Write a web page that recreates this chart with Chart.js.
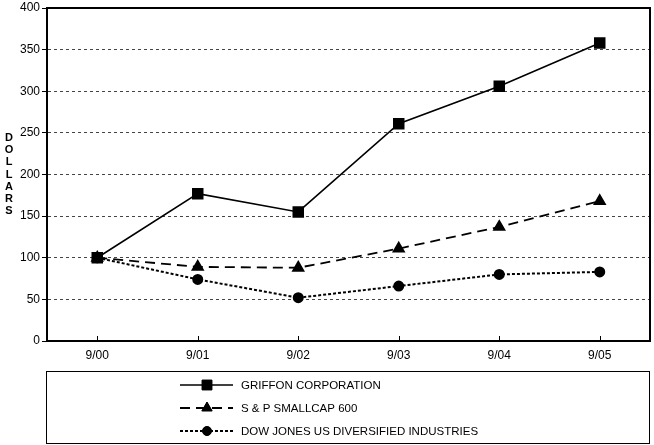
<!DOCTYPE html>
<html>
<head>
<meta charset="utf-8">
<script src="https://cdn.jsdelivr.net/npm/chart.js@4/dist/chart.umd.min.js"></script>
<style>
  html, body { margin: 0; padding: 0; background: #fff; }
  #wrap { width: 654px; height: 445px; }
</style>
</head>
<body>
<div id="wrap"><canvas id="chart" width="654" height="445"></canvas></div>
<script>
const years = ["9/00", "9/01", "9/02", "9/03", "9/04", "9/05"];
const griffon = [100, 177, 155, 261, 306, 358];
const smallcap = [100, 89, 88, 111, 137, 168];
const dowJones = [100, 74, 52, 66, 80, 83];
const yTicks = [0, 50, 100, 150, 200, 250, 300, 350, 400];
const axisTitle = "DOLLARS";

const FONT = "'Liberation Sans', Arial, sans-serif";

// frame, inner x ticks, vertical axis title, legend box
const extras = {
    id: "extras",
    afterDraw(chart) {
        const ctx = chart.ctx;
        const a = chart.chartArea;
        const x = chart.scales.x;
        ctx.save();
        ctx.strokeStyle = "#000";
        ctx.lineWidth = 2;
        ctx.setLineDash([]);
        ctx.strokeRect(a.left, a.top, a.right - a.left, a.bottom - a.top);

        ctx.lineWidth = 1;
        years.forEach((_, i) => {
            const px = Math.round(x.getPixelForValue(i)) + 0.5;
            ctx.beginPath();
            ctx.moveTo(px, a.bottom);
            ctx.lineTo(px, a.bottom - 5);
            ctx.stroke();
        });

        ctx.fillStyle = "#000";
        ctx.font = "bold 11px " + FONT;
        ctx.textAlign = "center";
        ctx.textBaseline = "middle";
        const mid = (a.top + a.bottom) / 2;
        const step = 12.3;
        const start = mid - step * (axisTitle.length - 1) / 2;
        axisTitle.split("").forEach((c, i) => ctx.fillText(c, 9, start + i * step));

        // legend
        const boxTop = 371, boxBottom = 443;
        ctx.lineWidth = 1;
        ctx.strokeRect(a.left - 0.5, boxTop + 0.5, a.right - a.left, boxBottom - boxTop);
        ctx.font = "11.5px " + FONT;
        ctx.textAlign = "left";
        chart.data.datasets.forEach((ds, i) => {
            const y = 385 + i * 23;
            ctx.save();
            ctx.strokeStyle = ds.borderColor;
            ctx.lineWidth = ds.borderWidth;
            ctx.setLineDash(ds.borderDash || []);
            ctx.beginPath();
            ctx.moveTo(180, y);
            ctx.lineTo(233, y);
            ctx.stroke();
            ctx.restore();
            Chart.helpers.drawPoint(ctx, {
                pointStyle: ds.pointStyle,
                radius: ds.pointRadius,
                borderWidth: 1,
                rotation: 0
            }, 207, y);
            ctx.fill();
            ctx.fillText(ds.label, 241, y + 1);
        });
        ctx.restore();
    }
};

new Chart(document.getElementById("chart"), {
    type: "line",
    data: {
        labels: years,
        datasets: [{
            label: "GRIFFON CORPORATION",
            data: griffon,
            borderColor: "#000",
            backgroundColor: "#000",
            borderWidth: 1.6,
            borderDash: [],
            pointStyle: "rect",
            pointRadius: 7,
            pointBackgroundColor: "#000",
            pointBorderColor: "#000",
            tension: 0
        }, {
            label: "S & P SMALLCAP 600",
            data: smallcap,
            borderColor: "#000",
            backgroundColor: "#000",
            borderWidth: 1.8,
            borderDash: [10, 6],
            pointStyle: "triangle",
            pointRadius: 6,
            pointBackgroundColor: "#000",
            pointBorderColor: "#000",
            tension: 0
        }, {
            label: "DOW JONES US DIVERSIFIED INDUSTRIES",
            data: dowJones,
            borderColor: "#000",
            backgroundColor: "#000",
            borderWidth: 2,
            borderDash: [3, 2],
            pointStyle: "circle",
            pointRadius: 4.5,
            pointBackgroundColor: "#000",
            pointBorderColor: "#000",
            tension: 0
        }]
    },
    options: {
        responsive: false,
        animation: false,
        layout: { autoPadding: false, padding: { left: 0, top: 8, right: 4, bottom: 84 } },
        plugins: {
            legend: { display: false },
            tooltip: { enabled: false }
        },
        scales: {
            x: {
                offset: true,
                grid: { display: false, drawTicks: false },
                border: { display: true, color: "#000", width: 2 },
                ticks: { color: "#000", font: { family: FONT, size: 12 }, padding: 7 },
                afterFit: s => { s.height = 20; s.paddingLeft = 0; s.paddingRight = 0; }
            },
            y: {
                min: 0,
                max: 400,
                afterBuildTicks: s => { s.ticks = yTicks.map(v => ({ value: v })); },
                grid: {
                    color: "#444",
                    lineWidth: 1,
                    tickLength: 5,
                    tickColor: "#000",
                    tickBorderDash: []
                },
                border: { display: true, color: "#000", width: 2, dash: [3, 3] },
                ticks: { color: "#000", font: { family: FONT, size: 12 }, padding: 2 },
                afterFit: s => { s.width = 47; s.paddingTop = 0; s.paddingBottom = 0; }
            }
        }
    },
    plugins: [extras]
});
</script>
</body>
</html>
